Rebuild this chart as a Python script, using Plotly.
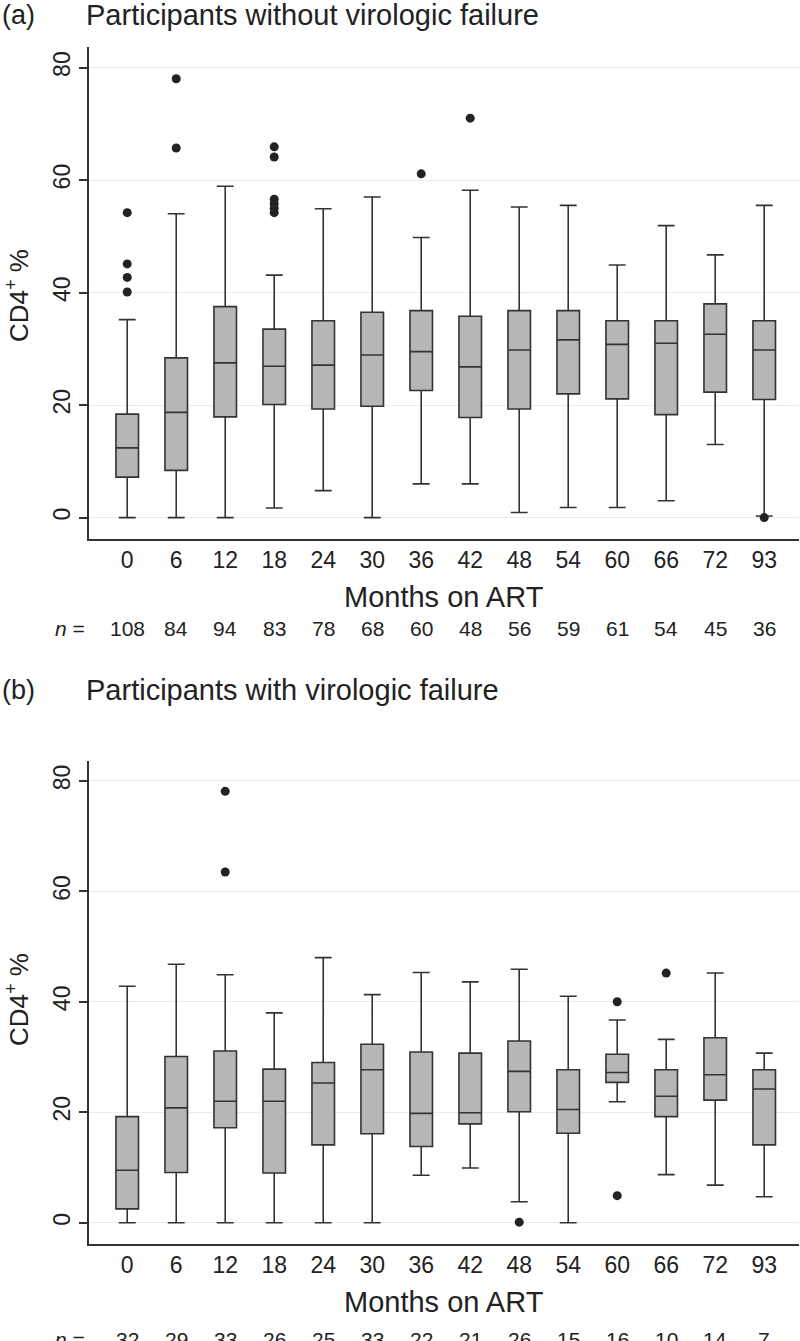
import plotly.graph_objects as go

months = ["0", "6", "12", "18", "24", "30", "36", "42", "48", "54", "60", "66", "72", "93"]

# Panel (a): participants without virologic failure
a_low = [0, 0, 0, 1.7, 4.8, 0, 6.0, 6.0, 0.9, 1.8, 1.8, 3.0, 13.0, 0.3]
a_q1 = [7.2, 8.4, 17.9, 20.1, 19.3, 19.8, 22.6, 17.8, 19.3, 22.0, 21.1, 18.3, 22.3, 21.0]
a_med = [12.4, 18.7, 27.5, 26.9, 27.1, 28.9, 29.5, 26.8, 29.8, 31.6, 30.8, 31.0, 32.6, 29.8]
a_q3 = [18.4, 28.4, 37.5, 33.5, 35.0, 36.5, 36.8, 35.8, 36.8, 36.8, 35.0, 35.0, 38.0, 35.0]
a_high = [35.2, 54.0, 58.9, 43.1, 54.9, 57.0, 49.8, 58.2, 55.2, 55.5, 44.9, 51.9, 46.7, 55.5]
a_out_x = ["0", "0", "0", "0", "6", "6", "18", "18", "18", "18", "18", "18", "36", "42", "93"]
a_out_y = [54.2, 45.1, 42.7, 40.1, 78.0, 65.7, 65.9, 64.1, 56.6, 55.8, 55.0, 54.2, 61.1, 71.0, 0.0]
a_n = [108, 84, 94, 83, 78, 68, 60, 48, 56, 59, 61, 54, 45, 36]

# Panel (b): participants with virologic failure
b_low = [0, 0, 0, 0, 0, 0, 8.6, 9.9, 3.8, 0, 21.9, 8.7, 6.8, 4.7]
b_q1 = [2.5, 9.1, 17.2, 9.0, 14.1, 16.1, 13.8, 17.9, 20.1, 16.2, 25.4, 19.2, 22.2, 14.1]
b_med = [9.5, 20.8, 22.0, 22.0, 25.3, 27.7, 19.8, 19.9, 27.4, 20.5, 27.2, 22.9, 26.8, 24.2]
b_q3 = [19.2, 30.1, 31.1, 27.8, 29.0, 32.3, 30.9, 30.7, 32.9, 27.7, 30.5, 27.7, 33.5, 27.7]
b_high = [42.8, 46.8, 44.9, 38.0, 48.0, 41.3, 45.3, 43.6, 45.9, 41.0, 36.7, 33.2, 45.2, 30.7]
b_out_x = ["12", "12", "48", "60", "60", "66"]
b_out_y = [78.1, 63.5, 0.1, 40.0, 4.9, 45.2]
b_n = [32, 29, 33, 26, 25, 33, 22, 21, 26, 15, 16, 10, 14, 7]

y_ticks = [0, 20, 40, 60, 80]

FONT = "Liberation Sans, Arial, Helvetica, sans-serif"
TXT = "#222222"
FILL = "#b4b6b7"
LINE = "#333333"

W, H = 800, 1341
xdom = [89 / W, 799 / W]
ydom_a = [1 - 539 / H, 1 - 47 / H]
ydom_b = [1 - 1243.7 / H, 1 - 760.7 / H]

fig = go.Figure()


def add_panel(low, q1, med, q3, high, ox, oy, xa, ya):
    fig.add_trace(go.Box(
        x=months, q1=q1, median=med, q3=q3, lowerfence=low, upperfence=high,
        fillcolor=FILL, line=dict(color=LINE, width=1.6),
        width=0.46, whiskerwidth=0.75, boxpoints=False,
        xaxis=xa, yaxis=ya, showlegend=False, hoverinfo="skip",
    ))
    fig.add_trace(go.Scatter(
        x=ox, y=oy, mode="markers",
        marker=dict(color="#222222", size=9),
        xaxis=xa, yaxis=ya, showlegend=False, hoverinfo="skip",
    ))


add_panel(a_low, a_q1, a_med, a_q3, a_high, a_out_x, a_out_y, "x", "y")
add_panel(b_low, b_q1, b_med, b_q3, b_high, b_out_x, b_out_y, "x2", "y2")

xaxis_common = dict(
    type="category", categoryorder="array", categoryarray=months,
    range=[-0.78, 13.71], domain=xdom,
    showline=True, linecolor=LINE, linewidth=1.5,
    showgrid=False, zeroline=False, ticks="",
    tickfont=dict(family=FONT, size=23, color=TXT),
    fixedrange=True,
)
yaxis_common = dict(
    range=[-3.8, 83.65], tickvals=y_ticks, ticktext=[str(v) for v in y_ticks],
    showline=True, linecolor=LINE, linewidth=1.5,
    ticks="outside", ticklen=8, tickwidth=1.5, tickcolor=LINE,
    tickangle=-90,
    showgrid=True, gridcolor="#ebebeb", gridwidth=1.2,
    zeroline=False,
    tickfont=dict(family=FONT, size=23, color=TXT),
    fixedrange=True,
)

fig.update_layout(
    width=W, height=H,
    margin=dict(l=0, r=0, t=0, b=0),
    paper_bgcolor="white", plot_bgcolor="white",
    xaxis=dict(**xaxis_common, anchor="y"),
    yaxis=dict(**yaxis_common, domain=ydom_a, anchor="x"),
    xaxis2=dict(**xaxis_common, anchor="y2"),
    yaxis2=dict(**yaxis_common, domain=ydom_b, anchor="x2"),
)

ann = []


def ptext(x, y, text, size, **kw):
    d = dict(x=x / W, y=1 - y / H, xref="paper", yref="paper", text=text,
             showarrow=False, font=dict(family=FONT, size=size, color=TXT))
    d.update(kw)
    ann.append(d)


# Panel titles
ptext(0, 15, "(a)", 27, xanchor="left", yanchor="middle")
ptext(84, 15, "Participants without virologic failure", 29, xanchor="left", yanchor="middle")
ptext(0, 690, "(b)", 27, xanchor="left", yanchor="middle")
ptext(84, 690, "Participants with virologic failure", 29, xanchor="left", yanchor="middle")

# Y axis titles
for yc in (296, 1000):
    ptext(17, yc, "CD4<sup>+</sup> %", 26, textangle=-90, xanchor="center", yanchor="middle")

# X axis titles
for yc in (597, 1302):
    ptext(444, yc, "Months on ART", 29, xanchor="center", yanchor="middle")

# n rows
for yc, ns, xref in ((628, a_n, "x"), (1339, b_n, "x2")):
    ptext(70, yc, "<i>n</i> =", 21, xanchor="center", yanchor="middle")
    for i, n in enumerate(ns):
        ann.append(dict(x=i, y=1 - yc / H, xref=xref, yref="paper", text=str(n),
                        showarrow=False, xanchor="center", yanchor="middle",
                        font=dict(family=FONT, size=21, color=TXT)))

fig.update_layout(annotations=ann)

fig.write_html(
    "out.html",
    config={"displayModeBar": False},
    post_script="document.body.style.margin='0';document.body.style.overflow='hidden';",
)
